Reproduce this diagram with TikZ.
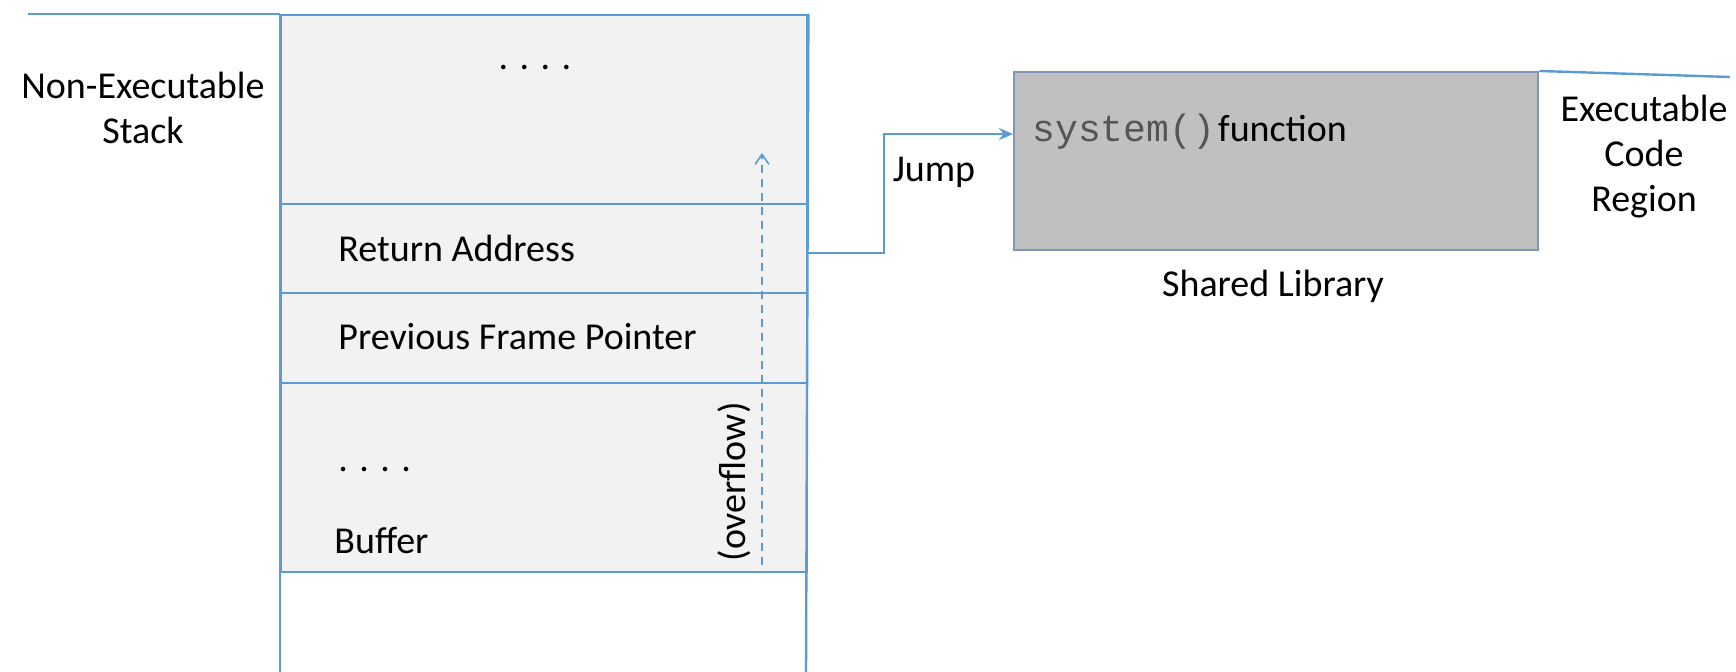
\documentclass[tikz,border=0pt]{standalone}
\usepackage{fontspec}
\setmainfont{Carlito}
\newfontfamily\codefont{Liberation Mono}
\usetikzlibrary{arrows.meta}
\definecolor{lineblue}{HTML}{5B9BD5}
\definecolor{stackfill}{HTML}{F2F2F2}
\definecolor{libfill}{HTML}{C0C0C0}
\definecolor{libborder}{HTML}{7F97B2}
\definecolor{codegray}{HTML}{555555}
\tikzset{
  cell/.style={draw=lineblue, line width=1.2pt, fill=stackfill, minimum width=263pt, inner sep=0pt, anchor=north west},
  lbl/.style={font=\fontsize{19}{22.5}\selectfont, inner sep=0pt},
  blueline/.style={draw=lineblue, line width=1.2pt},
}
\begin{document}
\begin{tikzpicture}[x=0.5pt,y=-0.5pt]
\useasboundingbox (0,0) rectangle (1736,672);
% stack cells
\node[cell, minimum height=94.5pt] (top) at (280,14) {};
\node[cell, minimum height=44.5pt] (ret) at (280,203) {};
\node[cell, minimum height=45pt] (pfp) at (280,292) {};
\node[cell, minimum height=94.5pt] (buf) at (280,382) {};
% outer stack lines
\coordinate (tl) at (28,14);
\coordinate (lb) at (280,672);
\coordinate (rb) at (806,672);
\draw[blueline] (tl) -- (top.north west);
\draw[blueline] (top.north west) -- (lb);
\draw[blueline] (top.north east) -- (rb);
% texts in stack
\node[lbl] (dots1) at (535,68) {. . . .};
\node[lbl, anchor=west] (tret) at (338,248) {Return Address};
\node[lbl, anchor=west] (tpfp) at (338,337) {Previous Frame Pointer};
\node[lbl, anchor=west] (dots2) at (338,470) {. . . .};
\node[lbl, anchor=west] (tbuf) at (334,541) {Buffer};
\node[lbl, rotate=90] (ovf) at (734,482) {(overflow)};
\node[lbl, align=center] (nes) at (143,108) {Non-Executable\\Stack};
% overflow arrow
\coordinate (ovs) at (762,565);
\coordinate (ove) at (762,153);
\draw[draw=lineblue, line width=0.8pt, dash pattern=on 4pt off 3pt, -{Straight Barb[length=5pt,width=7pt]}] (ovs) -- (ove);
% shared library
\node[draw=libborder, line width=1.2pt, fill=libfill, minimum width=262pt, minimum height=89pt, inner sep=0pt, anchor=north west] (lib) at (1013,71) {};
\node[anchor=west, inner sep=0pt] (sys) at (1032,132) {{\codefont\fontsize{19}{22}\selectfont\color{codegray}system()}\,\fontsize{19}{22.5}\selectfont function};
\node[lbl] (shl) at (1273,286) {Shared Library};
% jump connector
\coordinate (jx) at (884,253);
\coordinate (jin) at (1013,134);
\draw[blueline, -{Stealth[length=7pt,width=6pt]}] (ret.east |- jx) -- (jx) |- (jin);
\node[lbl] (jump) at (934,172) {Jump};
% executable region line
\coordinate (exr) at (1730,77);
\draw[blueline] (lib.north east) -- (exr);
\node[lbl, align=center] (exc) at (1644,157) {Executable\\Code\\Region};
\end{tikzpicture}
\end{document}
